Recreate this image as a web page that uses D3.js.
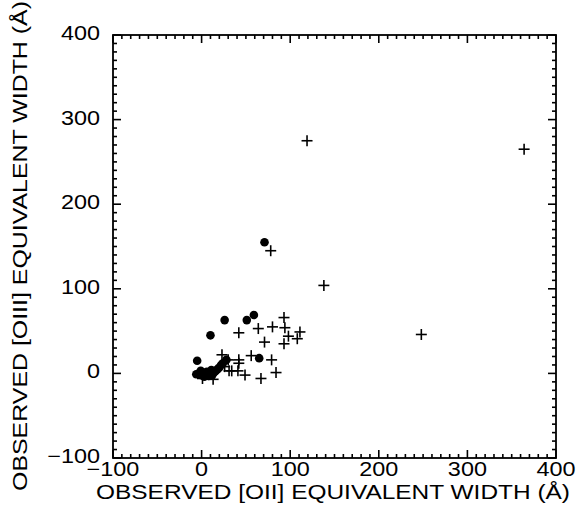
<!DOCTYPE html>
<html>
<head>
<meta charset="utf-8">
<script src="https://cdn.jsdelivr.net/npm/d3@7"></script>
<style>
  html, body { margin: 0; padding: 0; background: #fff; }
  svg { display: block; }
  text { font-family: "Liberation Sans", Arial, Helvetica, sans-serif; fill: #000; }
</style>
</head>
<body>
<svg id="chart" width="577" height="520"></svg>
<script>
// ---- data ----
const xTickValues = [-100, 0, 100, 200, 300, 400];
const yTickValues = [-100, 0, 100, 200, 300, 400];
const xTitle = "OBSERVED [OII] EQUIVALENT WIDTH (Å)";
const yTitle = "OBSERVED [OIII] EQUIVALENT WIDTH (Å)";

// filled circles
const dotX = [71, 26, 51, 59, 10, 65, -5, 28, -3, 0, 2, 5, 8, 10, 12, 14, 16, 18, 20, 22, 24, -1, 6, 3, -6, 11];
const dotY = [155, 63, 63, 69, 45, 18, 15, 16, 0, -2, 1, -1, -3, 0, -2, 1, 3, 5, 7, 10, 12, 3, 2, -4, -1, 4];

// plus signs
const plusX = [119, 364, 78, 138, 248, 93, 42, 64, 80, 94, 111, 98, 108, 71, 93, 23, 42, 42, 56, 79, 34, 41, 49, 67, 84, 13, 1, 26, 30, 31];
const plusY = [275, 265, 145, 104, 46, 66, 48, 53, 55, 54, 49, 44, 41, 37, 35, 22, 16, 12, 21, 16, 3, 3, -2, -6, 1, -7, -6, 8, 16, 3];

(function () {
  const svg = d3.select("#chart");
  const pL = 113, pR = 556, pT = 35, pB = 458;
  const x = d3.scaleLinear().domain([-100, 400]).range([pL, pR]);
  const y = d3.scaleLinear().domain([-100, 400]).range([pB, pT]);

  const minorX = d3.range(-100, 401, 10).filter(v => !xTickValues.includes(v));
  const minorY = d3.range(-100, 401, 10).filter(v => !yTickValues.includes(v));

  const g = svg.append("g");

  function drawXTicks(vals, len) {
    vals.forEach(v => {
      g.append("line").attr("x1", x(v)).attr("x2", x(v)).attr("y1", pB).attr("y2", pB - len)
        .attr("stroke", "#000").attr("stroke-width", 1.6);
      g.append("line").attr("x1", x(v)).attr("x2", x(v)).attr("y1", pT).attr("y2", pT + len)
        .attr("stroke", "#000").attr("stroke-width", 1.6);
    });
  }
  function drawYTicks(vals, len) {
    vals.forEach(v => {
      g.append("line").attr("y1", y(v)).attr("y2", y(v)).attr("x1", pL).attr("x2", pL + len)
        .attr("stroke", "#000").attr("stroke-width", 1.6);
      g.append("line").attr("y1", y(v)).attr("y2", y(v)).attr("x1", pR).attr("x2", pR - len)
        .attr("stroke", "#000").attr("stroke-width", 1.6);
    });
  }
  drawXTicks(minorX, 4);
  drawXTicks(xTickValues, 8);
  drawYTicks(minorY, 4);
  drawYTicks(yTickValues, 8);

  g.append("rect").attr("x", pL).attr("y", pT).attr("width", pR - pL).attr("height", pB - pT)
    .attr("fill", "none").attr("stroke", "#000").attr("stroke-width", 1.8);

  const fmt = v => v < 0 ? "\u2212" + Math.abs(v) : String(v);
  const stretch = function () {
    const w = this.getComputedTextLength();
    d3.select(this).attr("textLength", w * 1.17).attr("lengthAdjust", "spacingAndGlyphs");
  };

  g.selectAll(".xl").data(xTickValues).enter().append("text")
    .attr("x", d => x(d)).attr("y", 476).attr("text-anchor", "middle")
    .attr("font-size", 20).text(fmt).each(stretch);

  g.selectAll(".yl").data(yTickValues).enter().append("text")
    .attr("x", pL - 13).attr("y", d => y(d) + 5).attr("text-anchor", "end")
    .attr("font-size", 20).text(fmt).each(stretch);

  g.append("text").attr("x", 333).attr("y", 499).attr("text-anchor", "middle")
    .attr("font-size", 20).attr("textLength", 474).attr("lengthAdjust", "spacingAndGlyphs")
    .text(xTitle);
  g.append("text").attr("transform", `translate(27,246) rotate(-90)`)
    .attr("text-anchor", "middle").attr("font-size", 20)
    .attr("textLength", 490).attr("lengthAdjust", "spacingAndGlyphs").text(yTitle);

  const ps = 5.5;
  const pg = g.append("g").attr("stroke", "#000").attr("stroke-width", 1.6);
  d3.range(plusX.length).forEach(i => {
    const cx = x(plusX[i]), cy = y(plusY[i]);
    pg.append("line").attr("x1", cx - ps).attr("x2", cx + ps).attr("y1", cy).attr("y2", cy);
    pg.append("line").attr("x1", cx).attr("x2", cx).attr("y1", cy - ps).attr("y2", cy + ps);
  });

  g.selectAll(".dot").data(d3.range(dotX.length)).enter().append("circle")
    .attr("cx", i => x(dotX[i])).attr("cy", i => y(dotY[i])).attr("r", 4.3).attr("fill", "#000");
})();
</script>
</body>
</html>
